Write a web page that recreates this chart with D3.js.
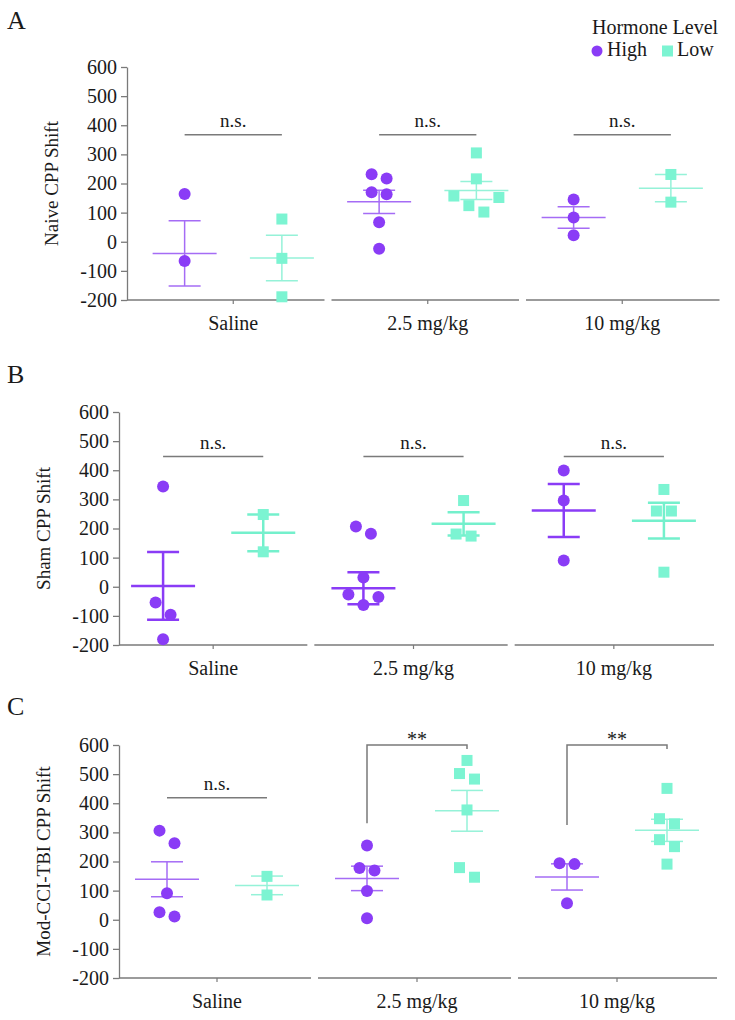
<!DOCTYPE html>
<html>
<head>
<meta charset="utf-8">
<script src="https://cdn.jsdelivr.net/npm/d3@7"></script>
<style>
  body { margin: 0; background: #fff; }
  text { font-family: "Liberation Serif", "Times New Roman", serif; fill: #1a1a1a; }
</style>
</head>
<body>
<div id="chart"></div>
<script>
var categories = ["Saline", "2.5 mg/kg", "10 mg/kg"];
var groups = ["High", "Low"];
var yTicks = [-200, -100, 0, 100, 200, 300, 400, 500, 600];

// panel A - naive
var naiveHigh = [[164, -66], [232, 217, 170, 163, 67, -24], [145, 83, 22]];
var naiveLow = [[78, -57, -189], [305, 216, 157, 152, 124, 102], [231, 136]];
var naiveHighMean = [-40, 137, 83];
var naiveHighSem = [112, 40, 37];
var naiveLowMean = [-56, 176, 184];
var naiveLowSem = [78, 31, 47];
var naiveSig = ["n.s.", "n.s.", "n.s."];
var naiveSigLevel = [367, 367, 367];
var naiveSigDrop = [null, null, null];

// panel B - sham
var shamHigh = [[344, -54, -96, -180], [207, 182, 32, -27, -35, -63], [399, 296, 90]];
var shamLow = [[248, 120], [296, 181, 174], [334, 260, 260, 50]];
var shamHighMean = [3, -5, 262];
var shamHighSem = [116, 55, 91];
var shamLowMean = [185, 216, 227];
var shamLowSem = [63, 40, 61];
var shamSig = ["n.s.", "n.s.", "n.s."];
var shamSigLevel = [447, 447, 447];
var shamSigDrop = [null, null, null];

// panel C - mod-CCI-TBI
var tbiHigh = [[306, 263, 91, 26, 11], [255, 178, 169, 99, 5], [194, 191, 57]];
var tbiLow = [[149, 85], [547, 502, 483, 377, 179, 146], [451, 347, 329, 275, 251, 191]];
var tbiHighMean = [139, 142, 147];
var tbiHighSem = [60, 42, 45];
var tbiLowMean = [118, 374, 307];
var tbiLowSem = [32, 70, 38];
var tbiSig = ["n.s.", "**", "**"];
var tbiSigLevel = [419, 600, 600];
var tbiSigDrop = [null, 331, 325];

var purple = "#8a3cf6", teal = "#7cf4d2";

var panels = [
    {letter: "A", letterY: 29, label: "Naive CPP Shift", top: 67, bottom: 300, axisX: 127, x0: 136, x1: 719.5,
     high: naiveHigh, low: naiveLow, highMean: naiveHighMean, highSem: naiveHighSem,
     lowMean: naiveLowMean, lowSem: naiveLowSem, sig: naiveSig, sigLevel: naiveSigLevel, sigDrop: naiveSigDrop,
     lw: 1.5, highLine: "#a56cf5", lowLine: "#95f2d8"},
    {letter: "B", letterY: 383, label: "Sham CPP Shift", top: 412, bottom: 645, axisX: 119, x0: 113, x1: 714,
     high: shamHigh, low: shamLow, highMean: shamHighMean, highSem: shamHighSem,
     lowMean: shamLowMean, lowSem: shamLowSem, sig: shamSig, sigLevel: shamSigLevel, sigDrop: shamSigDrop,
     lw: 2.5, highLine: purple, lowLine: "#74f0cc"},
    {letter: "C", letterY: 715, label: "Mod-CCI-TBI CPP Shift", top: 745, bottom: 978, axisX: 119, x0: 117, x1: 717,
     high: tbiHigh, low: tbiLow, highMean: tbiHighMean, highSem: tbiHighSem,
     lowMean: tbiLowMean, lowSem: tbiLowSem, sig: tbiSig, sigLevel: tbiSigLevel, sigDrop: tbiSigDrop,
     lw: 1.5, highLine: "#a56cf5", lowLine: "#95f2d8"}
];

// spreads points that sit at nearly the same height, like a scatter dot plot.
// the highest point of a row takes the outer slots, the rest fill inwards
function swarm(values, y, step, minGap) {
    var idx = values.map(function(v, i) { return i; })
        .sort(function(a, b) { return values[b] - values[a]; });
    var offsets = values.map(function() { return 0; });
    var row = [idx[0]];
    function flush() {
        var n = row.length;
        var slots = d3.range(n).map(function(k) { return (k - (n - 1) / 2) * step; });
        slots.sort(function(a, b) { return Math.abs(b) - Math.abs(a) || a - b; });
        row.forEach(function(j, k) { offsets[j] = slots[k]; });
    }
    for (var k = 1; k < idx.length; k++) {
        if (Math.abs(y(values[idx[k - 1]]) - y(values[idx[k]])) < minGap) row.push(idx[k]);
        else { flush(); row = [idx[k]]; }
    }
    flush();
    return offsets;
}

var svg = d3.select("#chart").append("svg")
    .attr("width", 735)
    .attr("height", 1020);

panels.forEach(function(p) {
    var y = d3.scaleLinear().domain([-200, 600]).range([p.bottom, p.top]);
    var x = d3.scaleBand().domain(categories).range([p.x0, p.x1]);
    var gx = d3.scaleBand().domain(groups).range([0, x.bandwidth()]);
    var panel = svg.append("g");

    // panel letter
    panel.append("text")
        .attr("x", 7)
        .attr("y", p.letterY)
        .style("font-size", "26px")
        .text(p.letter);

    // y axis (plain hyphen for negatives, like the original)
    var yAxis = panel.append("g")
        .attr("transform", "translate(" + p.axisX + ",0)")
        .call(d3.axisLeft(y).tickValues(yTicks).tickSize(6).tickSizeOuter(0).tickPadding(4)
            .tickFormat(function(d) { return String(d); }));
    yAxis.attr("font-family", null).attr("font-size", null);
    yAxis.selectAll("path, line").attr("stroke", "#7a7a7a").attr("stroke-width", 1.3);
    yAxis.selectAll("text").style("font-size", "20px").attr("fill", "#1a1a1a");

    // y axis label
    panel.append("text")
        .attr("transform", "translate(" + (p.axisX - 69) + "," + ((p.top + p.bottom) / 2) + ") rotate(-90)")
        .attr("text-anchor", "middle")
        .style("font-size", "19px")
        .text(p.label);

    // x axis: one segment per category
    categories.forEach(function(c, i) {
        var s = i === 0 ? p.axisX : x(c) + 1;
        var e = i === categories.length - 1 ? x(c) + x.bandwidth() : x(c) + x.bandwidth() - 6;
        var cx = x(c) + x.bandwidth() / 2;
        panel.append("line")
            .attr("x1", s).attr("x2", e)
            .attr("y1", p.bottom).attr("y2", p.bottom)
            .attr("stroke", "#7a7a7a").attr("stroke-width", 1.5);
        panel.append("line")
            .attr("x1", cx).attr("x2", cx)
            .attr("y1", p.bottom).attr("y2", p.bottom + 4)
            .attr("stroke", "#7a7a7a").attr("stroke-width", 1.2);
        panel.append("text")
            .attr("x", cx)
            .attr("y", p.bottom + 30)
            .attr("text-anchor", "middle")
            .style("font-size", "20px")
            .text(c);
    });

    // mean +/- SEM and the individual animals
    var sets = [
        {name: "High", pts: p.high, mean: p.highMean, sem: p.highSem, line: p.highLine},
        {name: "Low", pts: p.low, mean: p.lowMean, sem: p.lowSem, line: p.lowLine}
    ];
    sets.forEach(function(s) {
        categories.forEach(function(c, i) {
            var cx = x(c) + gx(s.name) + gx.bandwidth() / 2;
            var m = s.mean[i], e = s.sem[i];
            var eb = panel.append("g")
                .attr("stroke", s.line)
                .attr("stroke-width", p.lw);
            eb.append("line").attr("x1", cx - 32).attr("x2", cx + 32).attr("y1", y(m)).attr("y2", y(m));
            eb.append("line").attr("x1", cx).attr("x2", cx).attr("y1", y(m - e)).attr("y2", y(m + e));
            eb.append("line").attr("x1", cx - 16).attr("x2", cx + 16).attr("y1", y(m + e)).attr("y2", y(m + e));
            eb.append("line").attr("x1", cx - 16).attr("x2", cx + 16).attr("y1", y(m - e)).attr("y2", y(m - e));

            var offs = swarm(s.pts[i], y, 15, 13);
            if (s.name === "High") {
                panel.selectAll(null)
                    .data(s.pts[i])
                    .enter().append("circle")
                    .attr("cx", function(d, j) { return cx + offs[j]; })
                    .attr("cy", function(d) { return y(d); })
                    .attr("r", 6)
                    .attr("fill", purple);
            } else {
                panel.selectAll(null)
                    .data(s.pts[i])
                    .enter().append("rect")
                    .attr("x", function(d, j) { return cx + offs[j] - 5.5; })
                    .attr("y", function(d) { return y(d) - 5.5; })
                    .attr("width", 11)
                    .attr("height", 11)
                    .attr("fill", teal);
            }
        });
    });

    // significance bars
    categories.forEach(function(c, i) {
        var xa = x(c) + gx("High") + gx.bandwidth() / 2;
        var xb = x(c) + gx("Low") + gx.bandwidth() / 2;
        var ly = y(p.sigLevel[i]);
        if (p.sigDrop[i] === null) {
            panel.append("line")
                .attr("x1", xa).attr("x2", xb).attr("y1", ly).attr("y2", ly)
                .attr("stroke", "#7a7a7a").attr("stroke-width", 1.5);
            panel.append("text")
                .attr("x", (xa + xb) / 2)
                .attr("y", ly - 8)
                .attr("text-anchor", "middle")
                .style("font-size", "19px")
                .text(p.sig[i]);
        } else {
            panel.append("path")
                .attr("d", "M" + xa + "," + y(p.sigDrop[i]) + "V" + ly + "H" + xb + "V" + (ly + 4))
                .attr("fill", "none")
                .attr("stroke", "#7a7a7a").attr("stroke-width", 1.5);
            panel.append("text")
                .attr("x", (xa + xb) / 2)
                .attr("y", ly + 1)
                .attr("text-anchor", "middle")
                .style("font-size", "20px")
                .text(p.sig[i]);
        }
    });
});

// legend
var legend = svg.append("g");
legend.append("text")
    .attr("x", 592).attr("y", 34)
    .style("font-size", "20px")
    .text("Hormone Level");
legend.append("circle")
    .attr("cx", 597).attr("cy", 51).attr("r", 5.5)
    .attr("fill", purple);
legend.append("text")
    .attr("x", 607).attr("y", 56)
    .style("font-size", "20px")
    .text("High");
legend.append("rect")
    .attr("x", 662).attr("y", 45.5).attr("width", 11).attr("height", 11)
    .attr("fill", teal);
legend.append("text")
    .attr("x", 677).attr("y", 56)
    .style("font-size", "20px")
    .text("Low");
</script>
</body>
</html>
